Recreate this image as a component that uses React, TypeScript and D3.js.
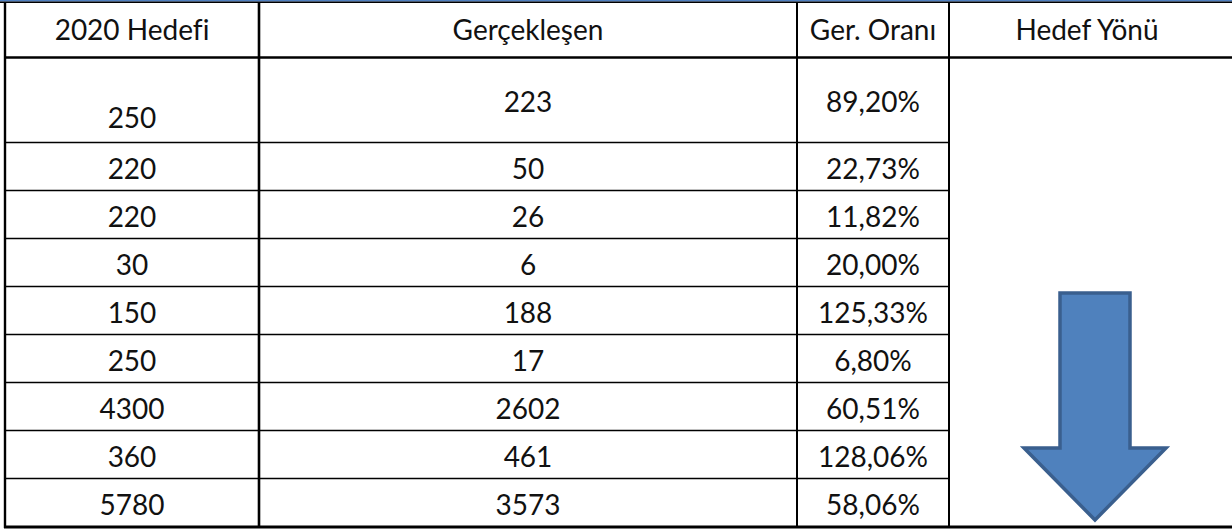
import React, { useEffect } from "react";
import * as d3 from "d3";

const headers = ["2020 Hedefi", "Gerçekleşen", "Ger. Oranı", "Hedef Yönü"];
const targets = ["250", "220", "220", "30", "150", "250", "4300", "360", "5780"];
const actuals = ["223", "50", "26", "6", "188", "17", "2602", "461", "3573"];
const ratios = ["89,20%", "22,73%", "11,82%", "20,00%", "125,33%", "6,80%", "60,51%", "128,06%", "58,06%"];

const W = 1232;
const H = 529;
const colEdges = [5, 259, 797, 949, 1225];
const headerBottom = 58;
const firstRowH = 85;
const rowH = 48;
const FONT = "Lato, 'Noto Sans', sans-serif";
const FS = 28;

export default function App() {
  useEffect(() => {
    document.body.style.margin = "0";
  }, []);

  const rowHeights = targets.map((_, i) => (i === 0 ? firstRowH : rowH));
  const cum = Array.from(d3.cumsum(rowHeights));
  const rowBottoms = cum.map((c) => headerBottom + c);
  const rowTops = rowBottoms.map((b, i) => b - rowHeights[i]);
  const bottom = rowBottoms[rowBottoms.length - 1];

  const colCenter = (i: number) => (colEdges[i] + colEdges[i + 1]) / 2;

  // arrow geometry
  const cx = 1095;
  const shaftHalf = 35;
  const headHalf = 71;
  const aTop = 293;
  const headY = 448;
  const tip = 520;
  const arrowPts: [number, number][] = [
    [cx - shaftHalf, aTop],
    [cx + shaftHalf, aTop],
    [cx + shaftHalf, headY],
    [cx + headHalf, headY],
    [cx, tip],
    [cx - headHalf, headY],
    [cx - shaftHalf, headY],
  ];
  const arrowPath = d3.line()(arrowPts) + "Z";

  const textProps = {
    fontFamily: FONT,
    fontSize: FS,
    fill: "#111",
    textAnchor: "middle" as const,
    style: { fontVariantLigatures: "none" as const },
  };

  return (
    <svg width={W} height={H} style={{ position: "absolute", left: 0, top: 0, background: "#fff" }}>
      <rect x={0} y={0} width={W} height={H} fill="#fff" />
      <rect x={0} y={0} width={W} height={1.6} fill="#4f7fbf" />
      <line x1={0} x2={W} y1={2.2} y2={2.2} stroke="#000" strokeWidth={1.6} />
      <line x1={4} x2={W} y1={headerBottom - 0.5} y2={headerBottom - 0.5} stroke="#000" strokeWidth={2.6} />
      {rowBottoms.slice(0, -1).map((b, i) => (
        <line key={"h" + i} x1={colEdges[0]} x2={colEdges[3]} y1={b - 0.5} y2={b - 0.5} stroke="#000" strokeWidth={1.4} />
      ))}
      <line x1={4} x2={W} y1={bottom} y2={bottom} stroke="#000" strokeWidth={3} />
      <line x1={colEdges[0]} x2={colEdges[0]} y1={2} y2={bottom + 1} stroke="#000" strokeWidth={2.4} />
      <line x1={colEdges[1]} x2={colEdges[1]} y1={2} y2={bottom + 1} stroke="#000" strokeWidth={2.6} />
      <line x1={colEdges[2]} x2={colEdges[2]} y1={2} y2={bottom + 1} stroke="#000" strokeWidth={2} />
      <line x1={colEdges[3]} x2={colEdges[3]} y1={2} y2={bottom + 1} stroke="#000" strokeWidth={2} />

      {headers.map((h, i) => (
        <text key={"hd" + i} x={colCenter(i)} y={40} {...textProps}>
          {h}
        </text>
      ))}

      {targets.map((t, i) => {
        const top = rowTops[i];
        const b = rowBottoms[i];
        const mid = (top + b) / 2;
        const yBottomAligned = i === 0 ? b - 15 : b - 12.5;
        const yMid = i === 0 ? mid + 11 : b - 12.5;
        return (
          <g key={"r" + i}>
            <text x={colCenter(0)} y={yBottomAligned} {...textProps}>{t}</text>
            <text x={colCenter(1)} y={yMid} {...textProps}>{actuals[i]}</text>
            <text x={colCenter(2)} y={yMid} {...textProps}>{ratios[i]}</text>
          </g>
        );
      })}

      <path d={arrowPath} fill="#4f81bd" stroke="#3a5f8e" strokeWidth={3.5} strokeLinejoin="miter" />
    </svg>
  );
}
